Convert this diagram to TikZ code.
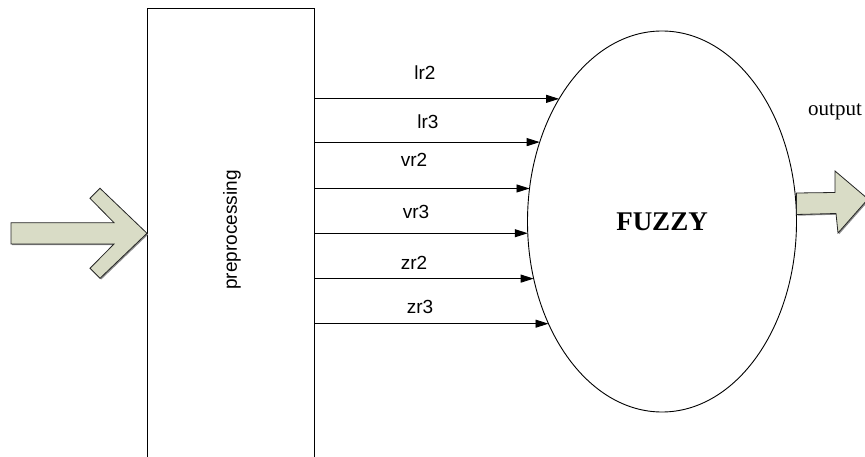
\documentclass[tikz,border=0pt]{standalone}
\usepackage{fontspec}
\setmainfont{Liberation Sans}
\newfontfamily\serifface{Liberation Serif}
\usepackage{xcolor}
\definecolor{ArrowFill}{HTML}{D9DCC6}
\definecolor{ShadowGray}{HTML}{8C8C8C}
\usetikzlibrary{positioning,shapes.geometric,arrows.meta,shadows}

\begin{document}
\begin{tikzpicture}[x=1pt, y=-1pt,
    blockarrow/.style={draw=black!85, line width=0.8pt, fill=ArrowFill, line join=miter,
      drop shadow={shadow xshift=1.2pt, shadow yshift=-1.2pt, fill=ShadowGray, opacity=1}},
    sigline/.style={line width=0.9pt, -{Triangle[length=13pt,width=8pt]}},
    siglabel/.style={font=\fontsize{19pt}{19pt}\selectfont, inner sep=0pt}]
  \useasboundingbox (0,0) rectangle (865,457);

  % Preprocessing block
  \node[draw, line width=0.9pt, minimum width=167pt, minimum height=462pt,
        inner sep=0pt, outer sep=0pt, anchor=north west] (prep) at (147,8) {};
  \node[rotate=90, font=\fontsize{19pt}{19pt}\selectfont] (preptext) at (232,230) {preprocessing};

  % Fuzzy ellipse
  \node[ellipse, draw, line width=0.9pt, minimum width=269pt, minimum height=381pt,
        inner sep=0pt, outer sep=0pt,
        font=\serifface\bfseries\fontsize{27pt}{27pt}\selectfont] (fuzzy) at (662,221.5) {FUZZY};

  % Input arrow
  \draw[blockarrow] (11,222.7) -- (114,222.7) -- (90,198.3) -- (100,188.3)
    -- (prep.west |- 0,233.3) -- (100,278.3) -- (90,268.3) -- (114,244) -- (11,244) -- cycle;

  % Output arrow
  \draw[blockarrow] (fuzzy.east |- 0,193) -- (835,192.5) -- (835,171) -- (868,199)
    -- (838,233) -- (836,213.5) -- (fuzzy.east |- 0,214.5) -- cycle;
  \node[font=\serifface\fontsize{21pt}{21pt}\selectfont] (outlab) at (835,112) {output};

  % Signals into the fuzzy block
  \foreach \ang/\lab/\lx/\ly [count=\i] in {130/lr2/425/73, 147/lr3/428/122, 166/vr2/414/160,
      185/vr3/416/212, 204/zr2/414/263, 222/zr3/420/307} {
    \draw[sigline] (prep.east |- fuzzy.\ang) -- (fuzzy.\ang);
    \node[siglabel] (lab\i) at (\lx,\ly) {\lab};
  }
\end{tikzpicture}
\end{document}
